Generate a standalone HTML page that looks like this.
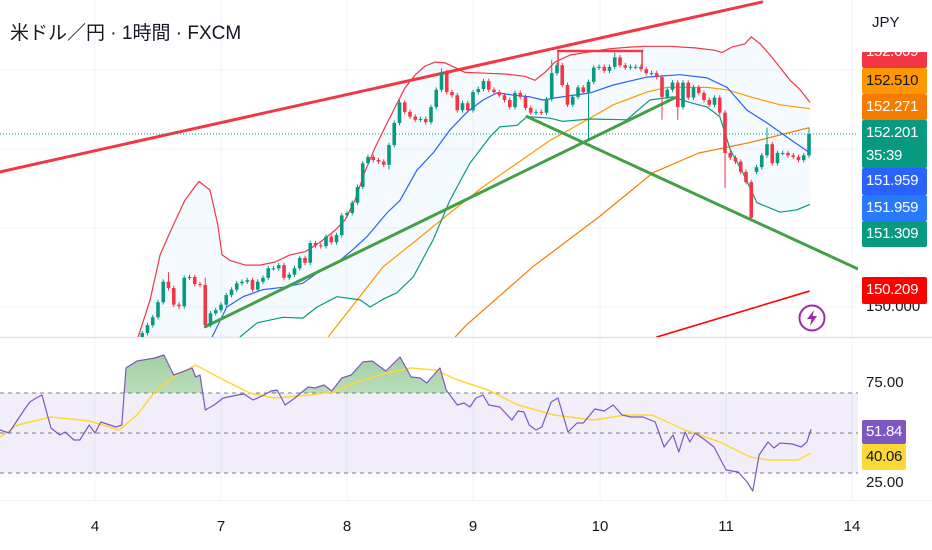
<!DOCTYPE html>
<html><head><meta charset="utf-8">
<style>
html,body{margin:0;padding:0;background:#fff;width:932px;height:550px;overflow:hidden}
body{font-family:"Liberation Sans","Noto Sans CJK JP",sans-serif;position:relative}
.lbl{position:absolute;left:862px;width:65px;border-radius:2px;font-size:15px;line-height:26px;padding-left:4px;box-sizing:border-box;color:#fff;letter-spacing:-0.3px}
.title{position:absolute;left:10px;top:18px;font-size:19px;color:#131722}
.xl{position:absolute;top:518px;font-size:15px;color:#131722;transform:translateX(-50%)}
.rl{position:absolute;left:866px;font-size:15px;color:#131722}
</style></head><body>
<svg id="chart" width="932" height="550" style="position:absolute;left:0;top:0">
<defs>
<clipPath id="pclip"><rect x="0" y="0" width="858" height="337"/></clipPath>
<clipPath id="oclip"><rect x="0" y="338" width="858" height="55"/></clipPath>
<linearGradient id="gfill" x1="0" y1="0" x2="0" y2="1"><stop offset="0" stop-color="#43a047" stop-opacity="0.5"/><stop offset="1" stop-color="#43a047" stop-opacity="0.02"/></linearGradient>
</defs>
<g id="grid"></g>
<g id="price" clip-path="url(#pclip)"></g>
<g id="rsi"></g>
</svg>
<div class="title">米ドル／円 · 1時間 · FXCM</div>
<div style="position:absolute;left:872px;top:14px;font-size:15px;color:#131722">JPY</div>
<div class="lbl" style="top:42px;height:26px;background:#f23645;line-height:20px;clip-path:inset(10px 0 0 0)">152.609</div>
<div class="lbl" style="top:68px;height:26px;background:#ff9800;color:#131722">152.510</div>
<div class="lbl" style="top:94px;height:26px;background:#f57c00">152.271</div>
<div class="lbl" style="top:120px;height:48px;background:#089981;line-height:23px;padding-top:1px">152.201<br>35:39</div>
<div class="lbl" style="top:168px;height:27px;background:#2962ff">151.959</div>
<div class="lbl" style="top:195px;height:26px;background:#2979ff">151.959</div>
<div class="lbl" style="top:221px;height:26px;background:#089981">151.309</div>
<div class="rl" style="top:298px">150.000</div>
<div class="lbl" style="top:277px;height:27px;background:#ff0000">150.209</div>
<div class="rl" style="top:374px">75.00</div>
<div class="rl" style="top:474px">25.00</div>
<div class="lbl" style="top:420px;height:24px;line-height:24px;width:44px;background:#7e57c2">51.84</div>
<div class="lbl" style="top:444px;height:26px;width:44px;background:#fdd835;color:#131722">40.06</div>
<div class="xl" style="left:95px">4</div>
<div class="xl" style="left:221px">7</div>
<div class="xl" style="left:347px">8</div>
<div class="xl" style="left:473px">9</div>
<div class="xl" style="left:600px">10</div>
<div class="xl" style="left:726px">11</div>
<div class="xl" style="left:852px">14</div>
<svg width="30" height="30" style="position:absolute;left:797px;top:303px"><circle cx="15" cy="15" r="12.5" fill="#fff" stroke="#9c27b0" stroke-width="2"/><path d="M17 7 L10 16 L14.5 16 L13 23 L20 13 L15.5 13 Z" fill="#9c27b0"/></svg>
<script>
const firstOpen = 149.62;
const closes = [149.67,149.77,149.87,150.06,150.32,150.24,150.03,150.01,150.37,150.38,150.29,150.28,149.77,149.92,149.96,150.03,150.15,150.22,150.30,150.32,150.34,150.22,150.32,150.37,150.49,150.49,150.53,150.37,150.41,150.49,150.62,150.56,150.81,150.78,150.77,150.89,150.82,150.91,151.16,151.19,151.32,151.52,151.82,151.90,151.86,151.84,151.80,152.05,152.33,152.59,152.47,152.41,152.37,152.38,152.34,152.53,152.75,152.97,152.72,152.68,152.49,152.58,152.49,152.72,152.76,152.86,152.75,152.72,152.68,152.62,152.53,152.71,152.66,152.52,152.46,152.47,152.46,152.63,152.96,153.06,152.81,152.56,152.66,152.78,152.72,152.85,153.03,153.04,152.99,153.04,153.16,153.06,153.03,153.04,153.04,153.01,152.96,152.96,152.91,152.66,152.75,152.84,152.53,152.84,152.65,152.78,152.71,152.62,152.56,152.65,152.46,151.95,151.89,151.84,151.71,151.58,151.13,151.77,151.92,152.06,151.82,151.95,151.95,151.92,151.90,151.86,151.92,152.19];
const gapOpens = {117:151.71};
const highOverrides = {5:150.44,12:150.37,78:153.13,119:152.27,127:152.27,57:153.02,90:153.22};
const lowOverrides = {85:152.11,99:152.37,102:152.37,111:151.51,116:151.12,7:149.97,47:151.74};
const firstBarTime = 9;
const bbUpperT = [8.2,10.5,12.4,14.3,17.1,19.8,21.9,23.4,24.2,25.7,28.6,31.4,34.3,37.1,40.0,42.9,45.7,47.6,49.5,51.4,53.3,55.2,57.1,59.0,61.0,62.9,64.8,66.7,68.6,70.5,74.3,78.1,81.9,83.8,85.7,87.6,90.5,94.3,98.1,101.9,104.8,109.5,114.3,118.1,119.4,121.3,123.8,125.0,126.7,128.6,130.5,132.4,134.3,136.2];
const bbUpperV = [149.62,150.09,150.66,150.95,151.35,151.59,151.48,151.04,150.66,150.59,150.53,150.53,150.57,150.66,150.70,150.82,150.97,151.10,151.35,151.71,152.01,152.27,152.52,152.77,152.94,153.05,153.10,153.09,153.03,152.97,152.96,152.95,152.92,152.87,152.97,153.10,153.19,153.23,153.27,153.29,153.30,153.30,153.28,153.25,153.22,153.29,153.33,153.42,153.33,153.19,153.03,152.87,152.75,152.59];
const bbMidT = [22.3,25.1,28.2,32.0,35.8,39.6,42.3,46.1,49.0,51.8,55.6,58.1,61.3,64.4,67.6,70.9,73.9,76.6,80.0,82.9,85.3,88.0,94.3,98.7,105.1,111.4,116.6,120.4,124.2,128.0,131.8,136.2];
const bbMidV = [149.62,150.00,150.13,150.22,150.25,150.30,150.43,150.56,150.72,150.89,151.19,151.35,151.73,151.95,152.24,152.47,152.62,152.71,152.68,152.66,152.62,152.65,152.71,152.81,152.91,152.94,152.90,152.78,152.49,152.33,152.15,151.95];
const bbLowerT = [27.6,30.9,35.8,39.6,42.3,46.1,50.5,52.4,55.2,57.5,60.6,64.4,67.6,71.4,75.2,77.1,80.4,82.3,86.7,89.1,94.3,101.3,105.7,110.1,113.3,116.6,119.0,121.0,123.4,126.1,130.5,133.7,136.2];
const bbLowerV = [149.62,149.80,149.87,149.86,150.00,150.13,150.09,150.00,150.11,150.18,150.38,150.85,151.35,151.82,152.15,152.28,152.30,152.41,152.39,152.35,152.38,152.37,152.62,152.66,152.59,152.53,152.41,151.99,151.70,151.32,151.20,151.23,151.30];
const maT = [44.4,54.9,61.3,67.6,73.9,80.4,86.7,94.3,98.7,105.1,108.9,116.6,120.4,125.3,130.5,136.2];
const maV = [149.62,150.51,150.85,151.19,151.52,151.82,152.11,152.39,152.56,152.72,152.78,152.78,152.75,152.65,152.56,152.51];
const maLongT = [68.6,70.7,83.4,96.0,106.3,115.0,124.6,136.0];
const maLongV = [149.62,149.77,150.51,151.14,151.70,151.95,152.08,152.27];
const rsiT = [-18.1,-16.4,-13.5,-12.4,-11.2,-10.1,-8.4,-6.7,-5.7,-4.0,-2.9,-1.1,0,1.1,4.0,5.1,5.9,8.0,11.4,13.1,15.0,17.1,18.5,19.2,20.0,21.0,22.7,24.4,27.2,28.4,30.1,31.8,33.5,34.7,36.2,38.1,39.2,40.6,41.9,43.6,45.1,47.0,48.8,51.0,52.8,55.4,58.1,60.2,61.9,63.2,65.7,66.9,69.0,70.3,71.4,72.6,73.9,75.0,77.1,79.4,80.6,81.7,82.7,84.0,85.1,86.9,88.2,90.1,91.8,93.0,95.2,97.0,98.7,100.4,102.1,104.4,106.7,108.4,110.1,111.2,112.4,113.3,114.3,116.2,117.9,120.2,122.5,124.2,125.3,126.5,128.2,129.3,130.5,132.8,134.5,135.6,136.4];
const rsiV = [51.5,50,61.5,65.5,67.5,69,52.5,49,50.5,46.5,46.5,54,50,55.5,53,54,82.5,86,87.5,89,79,81,82.5,78,79,61.5,64,67.5,69,69.5,66.5,68.5,71,71.5,64,67.5,70,73,72.5,74,71,77.5,79,85.5,86,81,88,78,77.5,75,82.5,71.5,64,65,63,67.5,69,64,63,56.5,61,60.5,54,51.5,53,65.5,67.5,50.5,55,55,62,61,64,59,58,58,55.5,43,49,40.5,50.5,45.5,50,46.5,43,31.5,30.5,25.5,21,39,45.5,42.5,45,44.5,43,45.5,51.84];
const rsiMaT = [-18.1,-14.7,-8.4,-1.1,4.6,8.0,11.4,14.9,19.2,23.8,29.5,34.1,41.0,45.3,49.9,55.6,60.2,64.8,69.1,74.9,80.6,87.4,91.8,95.2,101.0,106.1,112.4,119.0,124.8,128.2,133.9,136.4];
const rsiMaV = [48,54,58,56,51.5,59,70.5,78,84,77.5,70,67.5,69,70.5,75.5,80,82.5,81.5,76.5,71.5,64,59,57.5,56.5,59,59,51.5,45.5,38,36.5,36.5,40.06];
const dayTicks = [0,24,48,72,96.2,120.2,144.2];
const priceGrid = [150,151,152,153];
const rsiLevels = [70,50,30];

const X = t => 95 + 5.25*t;
const Y = p => 307 - (p-150)*79;
const R = r => 433 - (r-50)*2;
const NS = 'http://www.w3.org/2000/svg';
function mk(tag, attrs, parent){const e=document.createElementNS(NS,tag);for(const k in attrs)e.setAttribute(k,attrs[k]);parent.appendChild(e);return e;}
const grid=document.getElementById('grid'), price=document.getElementById('price'), rsi=document.getElementById('rsi');

dayTicks.forEach(t=>{const l=mk('line',{x1:X(t),x2:X(t),y1:0,y2:500,stroke:'#f0f3fa','stroke-width':1},grid);

});
priceGrid.forEach(p=>{const l=mk('line',{x1:0,x2:858,y1:Y(p),y2:Y(p),stroke:'#f0f3fa','stroke-width':1},grid);

});
const sep=mk('line',{x1:0,x2:932,y1:337.5,y2:337.5,stroke:'#e0e3eb','stroke-width':1.5},grid);


const bl=mk('line',{x1:0,x2:932,y1:500.5,y2:500.5,stroke:'#f0f3fa','stroke-width':1},grid);



function pts(T,V,f){return T.map((t,i)=>X(t).toFixed(1)+','+f(V[i]).toFixed(1)).join(' ');}
const fillPts = pts(bbUpperT,bbUpperV,Y)+' '+pts(bbLowerT.slice().reverse(),bbLowerV.slice().reverse(),Y)+' '+X(bbUpperT[0])+','+Y(bbUpperV[0]);
const bf=mk('polygon',{points:fillPts,fill:'#2196f3','fill-opacity':0.045},price);



function line(T,V,f,color,w,name,parent){const e=mk('polyline',{points:pts(T,V,f),fill:'none',stroke:color,'stroke-width':w,'stroke-linejoin':'round'},parent);

return e;}
line(maLongT,maLongV,Y,'#f57c00',1.2,'ma-long-line',price);
line(maT,maV,Y,'#ff9800',1.2,'ma-line',price);
line(bbUpperT,bbUpperV,Y,'#f23645',1.2,'bollinger-upper',price);
line(bbLowerT,bbLowerV,Y,'#089981',1.2,'bollinger-lower',price);
line(bbMidT,bbMidV,Y,'#2962ff',1.2,'bollinger-basis',price);

function seg(t1,p1,t2,p2,color,w,name){const e=mk('line',{x1:X(t1),y1:Y(p1),x2:X(t2),y2:Y(p2),stroke:color,'stroke-width':w,'stroke-linecap':'round'},price);

}
seg(-18.1,151.71,127.0,153.86,'#f23645',3,'resistance-trendline');
seg(107.0,149.62,136.0,150.20,'#ff0000',1.6,'support-trendline');
seg(88.2,153.24,104.2,153.24,'#f23645',2.5,'range-top-line');
seg(88.2,153.24,88.2,153.03,'#f23645',1.5,'range-left-edge');
seg(104.2,153.24,104.2,153.03,'#f23645',1.5,'range-right-edge');
seg(21.0,149.75,110.5,152.65,'#43a047',3,'uptrend-line');
seg(82.3,152.41,145.7,150.47,'#43a047',3,'downtrend-line');

closes.forEach((c,i)=>{
  const o = gapOpens[i]!==undefined ? gapOpens[i] : (i===0?firstOpen:closes[i-1]);
  const hi = highOverrides[i]!==undefined ? highOverrides[i] : Math.max(o,c)+0.03;
  const lo = lowOverrides[i]!==undefined ? lowOverrides[i] : Math.min(o,c)-0.03;
  const up = c>=o, col = up?'#089981':'#f23645', x=X(firstBarTime+i);
  const g=mk('g',{},price);
  
  
  mk('line',{x1:x,x2:x,y1:Y(hi),y2:Y(lo),stroke:col,'stroke-width':1},g);
  const top=Y(Math.max(o,c)), h=Math.max(1,Y(Math.min(o,c))-top);
  mk('rect',{x:x-1.8,y:top,width:3.6,height:h,fill:col},g);
});
const cp=mk('line',{x1:0,x2:858,y1:Y(closes[closes.length-1]),y2:Y(closes[closes.length-1]),stroke:'#089981','stroke-width':1,'stroke-dasharray':'1 2'},price);



const band=mk('rect',{x:0,y:R(70),width:858,height:R(30)-R(70),fill:'#7e57c2','fill-opacity':0.1},rsi);


rsiLevels.forEach(l=>{const e=mk('line',{x1:0,x2:858,y1:R(l),y2:R(l),stroke:'#787b86','stroke-width':1,'stroke-dasharray':'4 4'},rsi);

});
const ob=mk('polygon',{points:X(rsiT[0])+','+R(70)+' '+pts(rsiT,rsiV,R)+' '+X(rsiT[rsiT.length-1])+','+R(70),fill:'url(#gfill)','clip-path':'url(#oclip)'},rsi);


line(rsiMaT,rsiMaV,R,'#fdd835',1.5,'rsi-ma-line',rsi);
line(rsiT,rsiV,R,'#7e57c2',1.2,'rsi-line',rsi);
</script>
</body></html>
